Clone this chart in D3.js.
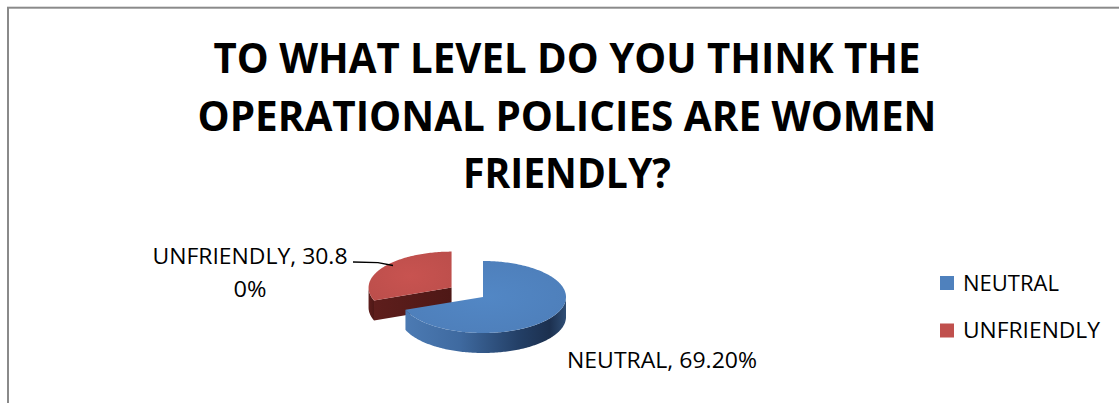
<!DOCTYPE html>
<html>
<head>
<meta charset="utf-8">
<script src="https://cdn.jsdelivr.net/npm/d3@7"></script>
<style>
  html, body { margin: 0; padding: 0; background: #ffffff; }
  svg { display: block; }
</style>
</head>
<body>
<svg id="chart" width="1119" height="403"></svg>
<script>
// ---- data ----
const categories = ["NEUTRAL", "UNFRIENDLY"];
const shares = [69.2, 30.8];
const sliceColors = ["#4f81bd", "#c0504d"];
const titleLines = [
  "TO WHAT LEVEL DO YOU THINK THE",
  "OPERATIONAL POLICIES ARE WOMEN",
  "FRIENDLY?"
];

// ---- layout ----
const W = 1119, H = 403;
const FONT = "'Open Sans', 'Liberation Sans', sans-serif";
const pieGeom = { cx: 483, cy: 297, rx: 83, ry: 36, depth: 20 };
const explode = { UNFRIENDLY: 0.46 };

const svg = d3.select("#chart");
const defs = svg.append("defs");

const color = d3.scaleOrdinal().domain(categories).range(sliceColors);

// fit a text element to a measured width
function fitWidth(sel, width) {
  const node = sel.node();
  const w = node.getComputedTextLength();
  if (Math.abs(w - width) > 1) {
    sel.attr("textLength", width).attr("lengthAdjust", "spacingAndGlyphs");
  }
}

// outer frame
svg.append("rect")
  .attr("x", 8).attr("y", 7.7)
  .attr("width", W + 50).attr("height", H + 50)
  .attr("fill", "none")
  .attr("stroke", "#8a8a8a")
  .attr("stroke-width", 2);

// title
const titleBase = [73, 130.5, 188];
const titleWidths = [707, 739, 208];
titleLines.forEach((line, i) => {
  const t = svg.append("text")
    .attr("x", 567).attr("y", titleBase[i])
    .attr("text-anchor", "middle")
    .attr("font-family", FONT)
    .attr("font-weight", 700)
    .attr("font-size", 42)
    .attr("fill", "#000")
    .text(line);
  fitWidth(t, titleWidths[i]);
});

// ---- 3D pie ----
const rows = categories.map((c, i) => ({ name: c, value: shares[i] }));
const arcs = d3.pie().sort(null).value(d => d.value)(rows);

// gradients
const sideGrad = defs.append("linearGradient")
  .attr("id", "blueSide").attr("gradientUnits", "userSpaceOnUse")
  .attr("x1", 400).attr("x2", 570).attr("y1", 0).attr("y2", 0);
[[0, "#4d7cb5"], [0.35, "#3f6aa0"], [0.7, "#233f66"], [0.88, "#1c304f"], [1, "#34567f"]]
  .forEach(([o, c]) => sideGrad.append("stop").attr("offset", o).attr("stop-color", c));

const redSide = defs.append("linearGradient")
  .attr("id", "redSide").attr("gradientUnits", "objectBoundingBox")
  .attr("x1", 0).attr("x2", 1).attr("y1", 0).attr("y2", 0);
[[0, "#5e1e1c"], [1, "#4e1816"]]
  .forEach(([o, c]) => redSide.append("stop").attr("offset", o).attr("stop-color", c));

const topGrads = {};
categories.forEach((c, i) => {
  const base = d3.color(sliceColors[i]);
  const g = defs.append("radialGradient")
    .attr("id", "top" + i)
    .attr("cx", 0.5).attr("cy", 0.5).attr("r", 0.7);
  g.append("stop").attr("offset", 0).attr("stop-color", base.brighter(0.12));
  g.append("stop").attr("offset", 1).attr("stop-color", base.darker(0.08));
  topGrads[c] = "url(#top" + i + ")";
});

function pt(cx, cy, a, dy = 0) {
  return [cx + Math.sin(a) * pieGeom.rx, cy - Math.cos(a) * pieGeom.ry + dy];
}
function arcPoints(cx, cy, a0, a1, dy = 0) {
  const n = Math.max(2, Math.ceil(Math.abs(a1 - a0) / 0.02));
  return d3.range(n + 1).map(k => pt(cx, cy, a0 + (a1 - a0) * k / n, dy));
}
const line = d3.line();

const slices = arcs.map(a => {
  const mid = (a.startAngle + a.endAngle) / 2;
  const k = explode[a.data.name] || 0;
  return {
    ...a,
    cx: pieGeom.cx + k * Math.sin(mid) * pieGeom.rx,
    cy: pieGeom.cy - k * Math.cos(mid) * pieGeom.ry
  };
});

// exploded slice sits behind; draw it first
const order = slices.slice().sort((p, q) => (explode[q.data.name] || 0) - (explode[p.data.name] || 0));
const h = pieGeom.depth;

order.forEach(s => {
  const g = svg.append("g");
  const isRed = s.data.name === "UNFRIENDLY";
  const sideFill = isRed ? "url(#redSide)" : "url(#blueSide)";

  // radial cut faces: the outward normal of the start edge points to (a - 90deg),
  // of the end edge to (a + 90deg); a face is seen when that normal points down-screen
  const faceStart = Math.cos(s.startAngle - Math.PI / 2) < 0 && s.startAngle > 1e-6;
  const faceEnd = Math.cos(s.endAngle + Math.PI / 2) < 0 && s.endAngle < 2 * Math.PI - 1e-6;
  [[faceStart, s.startAngle], [faceEnd, s.endAngle]].forEach(([vis, ang]) => {
    if (!vis) return;
    const pTop = pt(s.cx, s.cy, ang);
    const pBot = pt(s.cx, s.cy, ang, h);
    g.append("path")
      .attr("d", line([[s.cx, s.cy], pTop, pBot, [s.cx, s.cy + h]]) + "Z")
      .attr("fill", sideFill);
  });

  // outer wall over the front half (pi/2 .. 3pi/2)
  const f0 = Math.max(s.startAngle, Math.PI / 2);
  const f1 = Math.min(s.endAngle, 3 * Math.PI / 2);
  if (f1 > f0) {
    const topArc = arcPoints(s.cx, s.cy, f0, f1);
    const botArc = arcPoints(s.cx, s.cy, f1, f0, h);
    g.append("path")
      .attr("d", line(topArc.concat(botArc)) + "Z")
      .attr("fill", sideFill);
  }

  // top face
  const topPts = [[s.cx, s.cy]].concat(arcPoints(s.cx, s.cy, s.startAngle, s.endAngle));
  g.append("path")
    .attr("d", line(topPts) + "Z")
    .attr("fill", topGrads[s.data.name]);
});

// ---- data labels ----
const labelFont = 22;
const fmt = v => v.toFixed(2) + "%";

// NEUTRAL
const neutral = rows[0];
const tN = svg.append("text")
  .attr("x", 662).attr("y", 368)
  .attr("text-anchor", "middle")
  .attr("font-family", FONT).attr("font-size", labelFont).attr("fill", "#000")
  .text(neutral.name + ", " + fmt(neutral.value));
fitWidth(tN, 190);

// UNFRIENDLY (wrapped over two lines)
const unf = rows[1];
const unfText = unf.name + ", " + fmt(unf.value);
const unfLines = [unfText.slice(0, unf.name.length + 6), unfText.slice(unf.name.length + 6)];
const unfWidths = [195, 33];
const unfBase = [264, 297];
unfLines.forEach((l, i) => {
  const t = svg.append("text")
    .attr("x", 250).attr("y", unfBase[i])
    .attr("text-anchor", "middle")
    .attr("font-family", FONT).attr("font-size", labelFont).attr("fill", "#000")
    .text(l);
  fitWidth(t, unfWidths[i]);
});

// leader line to the exploded slice
svg.append("path")
  .attr("d", line([[353, 262], [378, 262.6], [393, 265.5]]))
  .attr("fill", "none").attr("stroke", "#000").attr("stroke-width", 1.3);

// ---- legend ----
const legendWidths = [95, 137];
const legend = svg.append("g");
categories.forEach((c, i) => {
  const y = 276 + i * 47.5;
  legend.append("rect")
    .attr("x", 940).attr("y", y)
    .attr("width", 14).attr("height", 14)
    .attr("fill", color(c));
  const t = legend.append("text")
    .attr("x", 963).attr("y", y + 14.5)
    .attr("font-family", FONT).attr("font-size", labelFont).attr("fill", "#000")
    .text(c);
  fitWidth(t, legendWidths[i]);
});
</script>
</body>
</html>
